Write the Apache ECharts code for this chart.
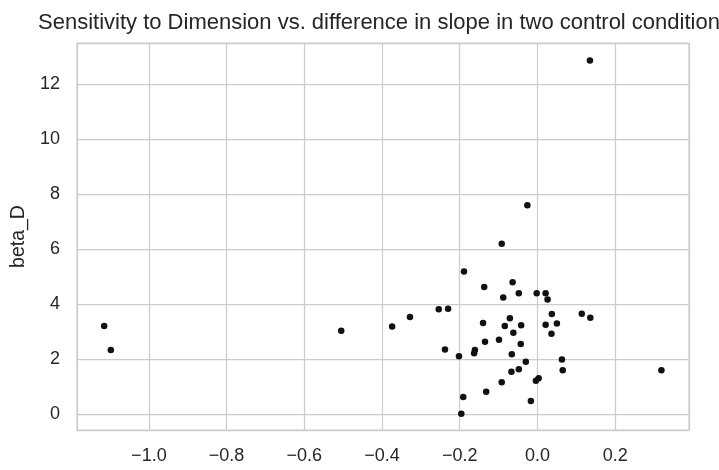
<!DOCTYPE html>
<html lang="en">

<head>
    <meta charset="UTF-8">
    <title>beta_D scatter</title>
    <script src="https://cdn.jsdelivr.net/npm/echarts@6/dist/echarts.min.js"></script>
    <style>
        body { margin: 0; background: #fff; }
    </style>
</head>

<body>
    <div id="container" style="width: 719px; height: 470px"></div>
    <script>
        // difference in slope (x) and beta_D (y)
        var slopeDiff = [
            -1.115, -1.098, -0.505, -0.374, -0.328, -0.254, -0.230, -0.238, -0.202, -0.189,
            -0.191, -0.196, -0.163, -0.161, -0.140, -0.137, -0.135, -0.132, -0.099, -0.092,
            -0.092, -0.088, -0.084, -0.071, -0.067, -0.066, -0.064, -0.062, -0.048, -0.048,
            -0.043, -0.042, -0.030, -0.026, -0.017, -0.004, 0.003, -0.002, 0.021, 0.026,
            0.021, 0.037, 0.036, 0.050, 0.063, 0.065, 0.114, 0.136, 0.135, 0.319
        ];
        var betaD = [
            3.21, 2.34, 3.04, 3.19, 3.54, 3.82, 3.84, 2.36, 2.11, 5.19,
            0.63, 0.02, 2.22, 2.34, 3.32, 4.63, 2.64, 0.82, 2.71, 6.20,
            1.17, 4.25, 3.21, 3.49, 1.55, 2.18, 4.80, 2.97, 4.40, 1.64,
            2.56, 3.24, 1.91, 7.60, 0.48, 1.22, 1.31, 4.40, 4.40, 4.17,
            3.26, 3.65, 2.93, 3.30, 1.99, 1.60, 3.66, 3.51, 12.86, 1.60
        ];
        var xTicks = [-1.0, -0.8, -0.6, -0.4, -0.2, 0.0, 0.2];
        var yTicks = [0, 2, 4, 6, 8, 10, 12];

        var points = [];
        for (let i = 0; i < slopeDiff.length; i++) {
            points.push([slopeDiff[i], betaD[i]]);
        }

        function isTick(list, v) {
            for (let i = 0; i < list.length; i++) {
                if (Math.abs(list[i] - v) < 1e-6) return true;
            }
            return false;
        }

        var chart = echarts.init(document.getElementById('container'));
        chart.setOption({
            animation: false,
            textStyle: { fontFamily: 'Liberation Sans, Arial, sans-serif' },
            title: {
                text: 'Sensitivity to Dimension vs. difference in slope in two control conditions',
                left: 38,
                top: 12,
                padding: 0,
                textStyle: { fontSize: 22, fontWeight: 'normal', color: '#262626' }
            },
            grid: {
                left: 77, right: 30, top: 43, bottom: 40,
                show: true, borderColor: '#cccccc', borderWidth: 1.25
            },
            xAxis: {
                type: 'value',
                min: -1.185,
                max: 0.39,
                splitNumber: 8,
                axisLine: { show: false },
                axisTick: { show: false },
                splitLine: { lineStyle: { color: '#cccccc', width: 1.25 } },
                axisLabel: {
                    color: '#262626', fontSize: 18, margin: 17,
                    showMinLabel: false, showMaxLabel: false,
                    formatter: function (v) {
                        if (!isTick(xTicks, v)) return '';
                        return v.toFixed(1).replace('-', '\u2212');
                    }
                }
            },
            yAxis: {
                type: 'value',
                min: -0.57,
                max: 13.5,
                splitNumber: 7,
                name: 'beta_D',
                nameLocation: 'middle',
                nameGap: 48,
                nameTextStyle: { fontSize: 19.5, color: '#262626' },
                axisLine: { show: false },
                axisTick: { show: false },
                splitLine: { lineStyle: { color: '#cccccc', width: 1.25 } },
                axisLabel: {
                    color: '#262626', fontSize: 18, margin: 17,
                    showMinLabel: false, showMaxLabel: false,
                    formatter: function (v) {
                        if (!isTick(yTicks, v)) return '';
                        return String(v);
                    }
                }
            },
            series: [{
                type: 'scatter',
                data: points,
                symbolSize: 6.5,
                itemStyle: { color: '#111111', opacity: 1 }
            }]
        });
    </script>
</body>

</html>
